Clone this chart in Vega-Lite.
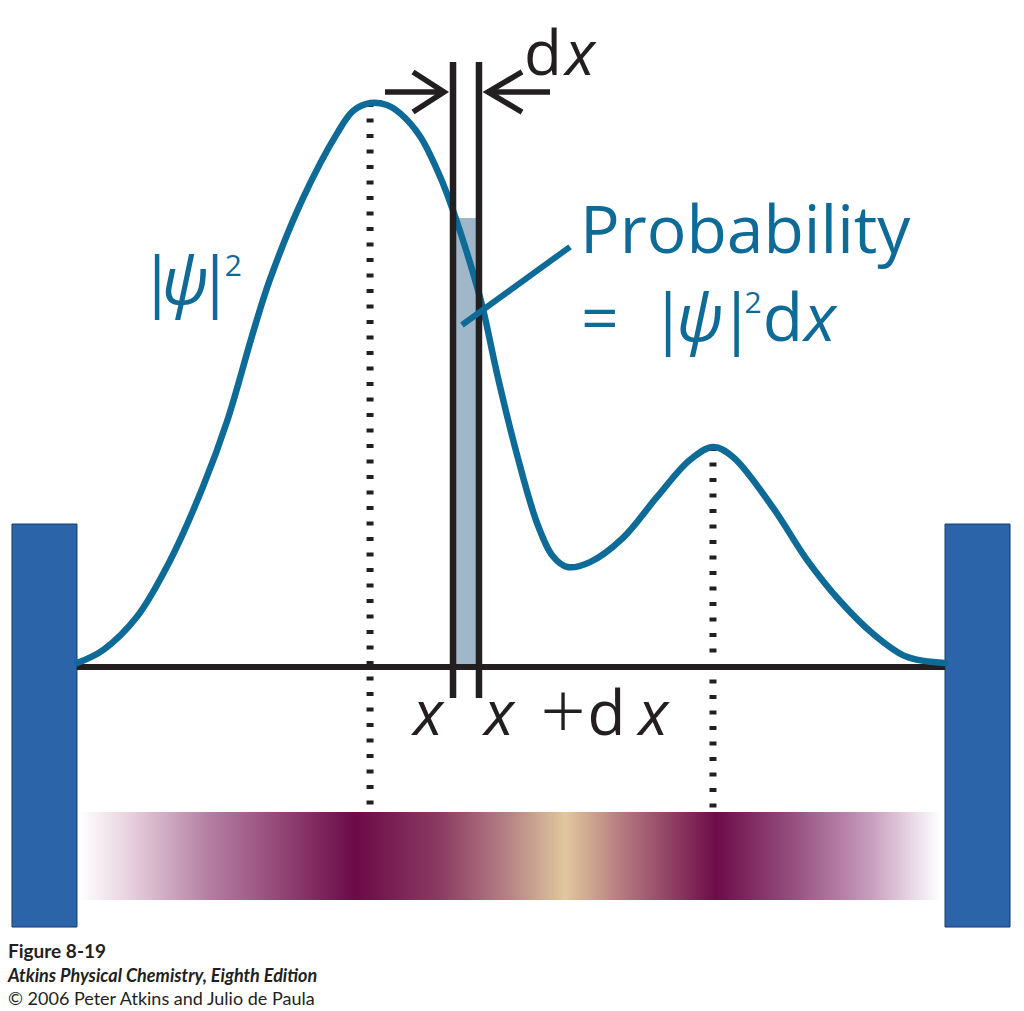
{
  "$schema": "https://vega.github.io/schema/vega-lite/v6.json",
  "width": 1024,
  "height": 1011,
  "autosize": {"type": "fit", "contains": "padding"},
  "padding": 0,
  "background": "white",
  "config": {"view": {"stroke": null}},
  "datasets": {
    "curve": [
      {"x": 0, "y": 0.007}, {"x": 0.030, "y": 0.030}, {"x": 0.069, "y": 0.089}, {"x": 0.107, "y": 0.188},
      {"x": 0.145, "y": 0.319}, {"x": 0.173, "y": 0.436}, {"x": 0.203, "y": 0.594}, {"x": 0.222, "y": 0.686},
      {"x": 0.260, "y": 0.830}, {"x": 0.300, "y": 0.947}, {"x": 0.318, "y": 0.986}, {"x": 0.338, "y": 1.000},
      {"x": 0.357, "y": 0.9965}, {"x": 0.372, "y": 0.982}, {"x": 0.395, "y": 0.9415}, {"x": 0.418, "y": 0.8706},
      {"x": 0.433, "y": 0.8103}, {"x": 0.456, "y": 0.7004}, {"x": 0.468, "y": 0.633}, {"x": 0.484, "y": 0.5195},
      {"x": 0.507, "y": 0.3759}, {"x": 0.530, "y": 0.2553}, {"x": 0.548, "y": 0.1968}, {"x": 0.565, "y": 0.1773},
      {"x": 0.591, "y": 0.186}, {"x": 0.629, "y": 0.229}, {"x": 0.668, "y": 0.301}, {"x": 0.706, "y": 0.367},
      {"x": 0.733, "y": 0.390}, {"x": 0.756, "y": 0.372}, {"x": 0.802, "y": 0.282}, {"x": 0.841, "y": 0.190},
      {"x": 0.879, "y": 0.117}, {"x": 0.917, "y": 0.059}, {"x": 0.956, "y": 0.018}, {"x": 1.0, "y": 0.007}
    ],
    "walls": [
      {"x": -0.0749, "x2": 0, "y": 0.2535, "y2": -0.461},
      {"x": 1.0, "x2": 1.0749, "y": 0.2535, "y2": -0.461}
    ],
    "band": [{"x": 0.0035, "x2": 0.9942, "y": -0.257, "y2": -0.413}],
    "strip": [{"x": 0.4332, "x2": 0.4631, "y": 0, "y2": 0.796}],
    "base": [{"x": 0, "x2": 1, "y": 0}],
    "dotted": [
      {"x": 0.3376, "y": 1.0, "y2": -0.25},
      {"x": 0.7327, "y": 0.39, "y2": -0.25}
    ],
    "bounds": [
      {"x": 0.4332, "y": 1.0727, "y2": -0.055},
      {"x": 0.4631, "y": 1.0727, "y2": -0.055}
    ],
    "shafts": [
      {"x": 0.3548, "x2": 0.4240, "y": 1.0195},
      {"x": 0.4724, "x2": 0.5449, "y": 1.0195}
    ],
    "chevrons": [
      {"g": "L", "o": 1, "x": 0.3871, "y": 1.055},
      {"g": "L", "o": 2, "x": 0.4228, "y": 1.0195},
      {"g": "L", "o": 3, "x": 0.3871, "y": 0.984},
      {"g": "R", "o": 1, "x": 0.5127, "y": 1.055},
      {"g": "R", "o": 2, "x": 0.4735, "y": 1.0195},
      {"g": "R", "o": 3, "x": 0.5127, "y": 0.984}
    ],
    "pointer": [{"x": 0.4435, "y": 0.6064, "x2": 0.568, "y2": 0.745}],
    "blueLeft": [{"t": "Probability", "x": 0.5795, "y": 0.734}],
    "blueUp": [
      {"t": "=", "x": 0.6025, "y": 0.578},
      {"t": "|", "x": 0.0922, "y": 0.6436},
      {"t": "|", "x": 0.1590, "y": 0.6436},
      {"t": "|", "x": 0.6809, "y": 0.578},
      {"t": "|", "x": 0.7600, "y": 0.578},
      {"t": "d", "x": 0.8134, "y": 0.578}
    ],
    "blueIt": [
      {"t": "ψ", "x": 0.1244, "y": 0.6436},
      {"t": "ψ", "x": 0.7175, "y": 0.578},
      {"t": "x", "x": 0.856, "y": 0.578}
    ],
    "blueSup": [
      {"t": "2", "x": 0.1800, "y": 0.6933},
      {"t": "2", "x": 0.7790, "y": 0.6277}
    ],
    "blackUp": [
      {"t": "d", "x": 0.5369, "y": 1.0496},
      {"t": "d", "x": 0.6100, "y": -0.1206}
    ],
    "plus": [
      {"t": "+", "x": 0.5599, "y": -0.1206}
    ],
    "blackIt": [
      {"t": "x", "x": 0.5795, "y": 1.0496},
      {"t": "x", "x": 0.4044, "y": -0.1206},
      {"t": "x", "x": 0.4862, "y": -0.1206},
      {"t": "x", "x": 0.6640, "y": -0.1206}
    ],
    "cap1": [{"t": "Figure 8-19", "x": -0.0795, "y": -0.516}],
    "cap2": [{"t": "Atkins Physical Chemistry, Eighth Edition", "x": -0.0795, "y": -0.5585}],
    "cap3": [{"t": "© 2006 Peter Atkins and Julio de Paula", "x": -0.0795, "y": -0.5993}]
  },
  "encoding": {
    "x": {"field": "x", "type": "quantitative", "axis": null, "scale": {"domain": [-0.0887, 1.091], "nice": false, "zero": false}},
    "y": {"field": "y", "type": "quantitative", "axis": null, "scale": {"domain": [-0.6099, 1.1826], "nice": false, "zero": false}}
  },
  "layer": [
    {
      "data": {"name": "band"},
      "mark": {"type": "rect", "fill": {"gradient": "linear", "x1": 0, "y1": 0, "x2": 1, "y2": 0, "stops": [
        {"offset": 0, "color": "#ffffff"},
        {"offset": 0.06, "color": "#e6cfdc"},
        {"offset": 0.15, "color": "#b47fa2"},
        {"offset": 0.24, "color": "#8f4272"},
        {"offset": 0.32, "color": "#6b0a47"},
        {"offset": 0.42, "color": "#8b3c62"},
        {"offset": 0.5, "color": "#b78486"},
        {"offset": 0.564, "color": "#e0c89c"},
        {"offset": 0.63, "color": "#b57a80"},
        {"offset": 0.7395, "color": "#6d0c49"},
        {"offset": 0.83, "color": "#955080"},
        {"offset": 0.92, "color": "#c89ebd"},
        {"offset": 1, "color": "#ffffff"}
      ]}},
      "encoding": {"x2": {"field": "x2"}, "y2": {"field": "y2"}}
    },
    {
      "data": {"name": "walls"},
      "mark": {"type": "rect", "fill": "#2b64a8", "stroke": "#1c3a66", "strokeWidth": 1},
      "encoding": {"x2": {"field": "x2"}, "y2": {"field": "y2"}}
    },
    {
      "data": {"name": "strip"},
      "mark": {"type": "rect", "fill": "#a0b6c9"},
      "encoding": {"x2": {"field": "x2"}, "y2": {"field": "y2"}}
    },
    {
      "data": {"name": "base"},
      "mark": {"type": "rule", "color": "#231f20", "strokeWidth": 6},
      "encoding": {"x2": {"field": "x2"}}
    },
    {
      "data": {"name": "dotted"},
      "mark": {"type": "rule", "color": "#231f20", "strokeWidth": 7, "strokeDash": [4, 11.5]},
      "encoding": {"y2": {"field": "y2"}}
    },
    {
      "data": {"name": "curve"},
      "mark": {"type": "line", "color": "#0e6a96", "strokeWidth": 6.5, "interpolate": "catmull-rom", "strokeCap": "round"},
      "encoding": {}
    },
    {
      "data": {"name": "bounds"},
      "mark": {"type": "rule", "color": "#231f20", "strokeWidth": 6.5},
      "encoding": {"y2": {"field": "y2"}}
    },
    {
      "data": {"name": "shafts"},
      "mark": {"type": "rule", "color": "#231f20", "strokeWidth": 5.5},
      "encoding": {"x2": {"field": "x2"}}
    },
    {
      "data": {"name": "chevrons"},
      "mark": {"type": "line", "color": "#231f20", "strokeWidth": 5.5, "strokeJoin": "miter", "strokeMiterLimit": 10},
      "encoding": {"detail": {"field": "g"}, "order": {"field": "o", "type": "quantitative"}}
    },
    {
      "data": {"name": "pointer"},
      "mark": {"type": "rule", "color": "#0e6a96", "strokeWidth": 6},
      "encoding": {"x2": {"field": "x2"}, "y2": {"field": "y2"}}
    },
    {
      "data": {"name": "blueLeft"},
      "mark": {"type": "text", "color": "#0e6a96", "font": "Open Sans", "fontSize": 66, "align": "left", "baseline": "alphabetic"},
      "encoding": {"text": {"field": "t"}}
    },
    {
      "data": {"name": "blueUp"},
      "mark": {"type": "text", "color": "#0e6a96", "font": "Open Sans", "fontSize": 66, "align": "center", "baseline": "alphabetic"},
      "encoding": {"text": {"field": "t"}}
    },
    {
      "data": {"name": "blueIt"},
      "mark": {"type": "text", "color": "#0e6a96", "font": "Open Sans", "fontStyle": "italic", "fontSize": 66, "align": "center", "baseline": "alphabetic"},
      "encoding": {"text": {"field": "t"}}
    },
    {
      "data": {"name": "blueSup"},
      "mark": {"type": "text", "color": "#0e6a96", "font": "Open Sans", "fontSize": 30, "align": "center", "baseline": "alphabetic"},
      "encoding": {"text": {"field": "t"}}
    },
    {
      "data": {"name": "blackUp"},
      "mark": {"type": "text", "color": "#231f20", "font": "Open Sans", "fontSize": 62, "align": "center", "baseline": "alphabetic"},
      "encoding": {"text": {"field": "t"}}
    },
    {
      "data": {"name": "plus"},
      "mark": {"type": "text", "color": "#231f20", "font": "Open Sans", "fontWeight": 300, "fontSize": 80, "align": "center", "baseline": "alphabetic", "dy": 4},
      "encoding": {"text": {"field": "t"}}
    },
    {
      "data": {"name": "blackIt"},
      "mark": {"type": "text", "color": "#231f20", "font": "Open Sans", "fontStyle": "italic", "fontSize": 62, "align": "center", "baseline": "alphabetic"},
      "encoding": {"text": {"field": "t"}}
    },
    {
      "data": {"name": "cap1"},
      "mark": {"type": "text", "color": "#231f20", "font": "Lato", "fontWeight": "bold", "fontSize": 19, "align": "left", "baseline": "alphabetic"},
      "encoding": {"text": {"field": "t"}}
    },
    {
      "data": {"name": "cap2"},
      "mark": {"type": "text", "color": "#231f20", "font": "Lato", "fontWeight": "bold", "fontStyle": "italic", "fontSize": 18, "align": "left", "baseline": "alphabetic"},
      "encoding": {"text": {"field": "t"}}
    },
    {
      "data": {"name": "cap3"},
      "mark": {"type": "text", "color": "#231f20", "font": "Lato", "fontSize": 18, "align": "left", "baseline": "alphabetic"},
      "encoding": {"text": {"field": "t"}}
    }
  ]
}
